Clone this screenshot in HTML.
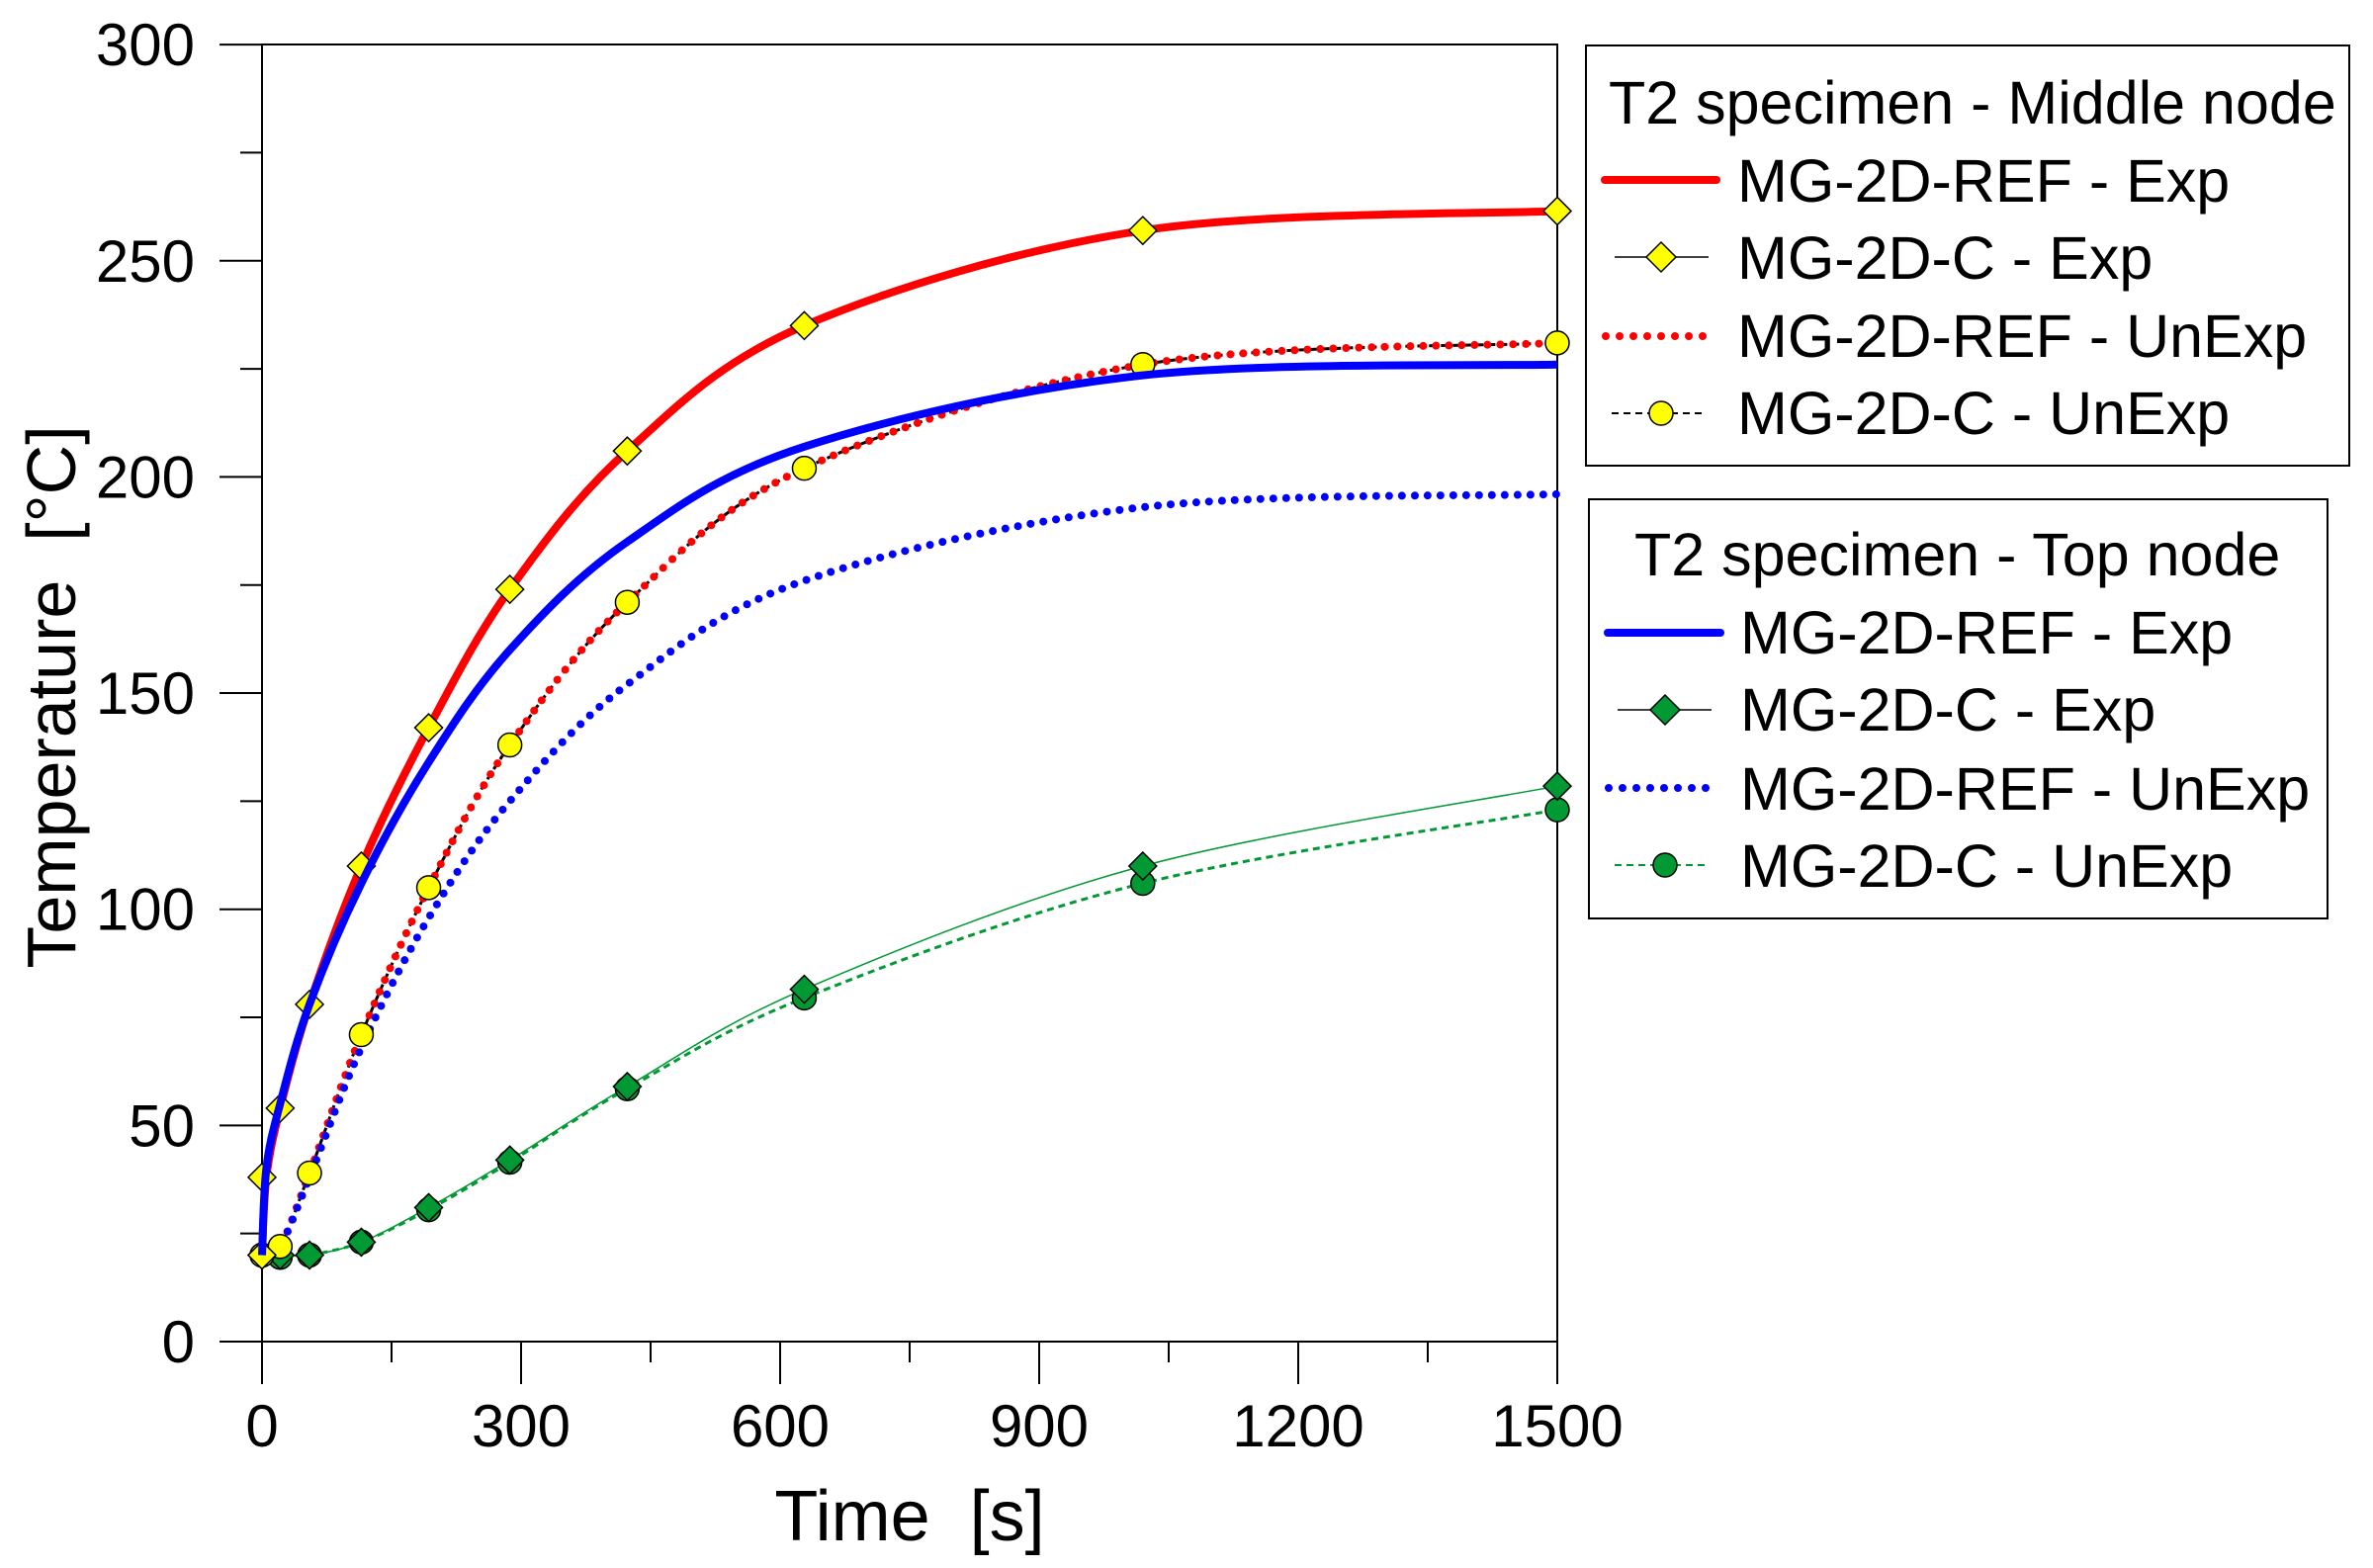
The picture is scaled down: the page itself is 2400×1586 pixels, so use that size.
<!DOCTYPE html>
<html><head><meta charset="utf-8"><style>
html,body{margin:0;padding:0;background:#fff;}
svg{display:block;font-family:"Liberation Sans",Arial,sans-serif;}
</style></head><body>
<svg id="s" width="2400" height="1586" viewBox="0 0 2400 1586" xmlns="http://www.w3.org/2000/svg">
<rect width="2400" height="1586" fill="#fff"/>
<g id="axes" stroke="#000" stroke-width="2" fill="none">
<rect x="265" y="45" width="1310" height="1312"/>
</g>
<g id="ticks" stroke="#000" stroke-width="2"></g>
<g font-size="60" fill="#000" text-anchor="end" id="ylab"></g>
<g font-size="60" fill="#000" text-anchor="middle" id="xlab"></g>
<text x="920" y="1558" font-size="72" text-anchor="middle">Time&#160; [s]</text>
<text transform="translate(76,705) rotate(-90)" font-size="70" text-anchor="middle">Temperature&#160; [°C]</text>
<g id="curves" fill="none"></g>
<g id="marks"></g>

<!-- legend 1 -->
<rect x="1604" y="46" width="772" height="425" fill="#fff" stroke="#000" stroke-width="2"/>
<g font-size="61" fill="#000">
<text x="1627" y="125">T2 specimen - Middle node</text>
<text x="1757" y="204">MG-2D-REF - Exp</text>
<text x="1757" y="282">MG-2D-C - Exp</text>
<text x="1757" y="361">MG-2D-REF - UnExp</text>
<text x="1757" y="439">MG-2D-C - UnExp</text>
</g>
<line x1="1623" y1="182" x2="1736" y2="182" stroke="#f00" stroke-width="8" stroke-linecap="round"/>
<line x1="1633" y1="260" x2="1728" y2="260" stroke="#000" stroke-width="1.5"/>
<polygon points="1680,245 1695,260 1680,275 1665,260" fill="#ff0" stroke="#000" stroke-width="1.5"/>
<line x1="1624" y1="340" x2="1732" y2="340" stroke="#f00" stroke-width="8" stroke-dasharray="0 14" stroke-linecap="round"/>
<line x1="1630" y1="418" x2="1724" y2="418" stroke="#000" stroke-width="2" stroke-dasharray="7 5"/>
<circle cx="1680" cy="418" r="12" fill="#ff0" stroke="#000" stroke-width="1.5"/>

<!-- legend 2 -->
<rect x="1607" y="505" width="747" height="424" fill="#fff" stroke="#000" stroke-width="2"/>
<g font-size="61" fill="#000">
<text x="1653" y="582">T2 specimen - Top node</text>
<text x="1760" y="661">MG-2D-REF - Exp</text>
<text x="1760" y="739">MG-2D-C - Exp</text>
<text x="1760" y="819">MG-2D-REF - UnExp</text>
<text x="1760" y="897">MG-2D-C - UnExp</text>
</g>
<line x1="1626" y1="640" x2="1740" y2="640" stroke="#00f" stroke-width="8" stroke-linecap="round"/>
<line x1="1636" y1="718" x2="1731" y2="718" stroke="#000" stroke-width="1.5"/>
<polygon points="1684,703 1699,718 1684,733 1669,718" fill="#009933" stroke="#000" stroke-width="1.5"/>
<line x1="1627" y1="797" x2="1735" y2="797" stroke="#00f" stroke-width="8" stroke-dasharray="0 14" stroke-linecap="round"/>
<line x1="1633" y1="875" x2="1727" y2="875" stroke="#009933" stroke-width="2" stroke-dasharray="7 5"/>
<circle cx="1684" cy="875" r="12" fill="#009933" stroke="#000" stroke-width="1.5"/>
</svg>
<script>
(function(){
var NS="http://www.w3.org/2000/svg";
function X(t){return 265+t*0.87333;}
function Y(v){return 1357-v*4.373;}
function el(p,tag,a){var e=document.createElementNS(NS,tag);for(var k in a)e.setAttribute(k,a[k]);p.appendChild(e);return e;}
var tk=document.getElementById('ticks'),yl=document.getElementById('ylab'),xl=document.getElementById('xlab');
for(var v=0;v<=300;v+=25){var maj=v%50==0;el(tk,'line',{x1:maj?222:243,x2:265,y1:Y(v),y2:Y(v)});
 if(maj){var t=el(yl,'text',{x:197,y:Y(v)+21});t.textContent=v;}}
for(var s=0;s<=1500;s+=150){var maj=s%300==0;el(tk,'line',{x1:X(s),x2:X(s),y1:1357,y2:maj?1400:1378});
 if(maj){var t=el(xl,'text',{x:X(s),y:1463});t.textContent=s;}}
function path(pts){var P=pts.map(function(p){return [X(p[0]),Y(p[1])];});var d="M"+P[0][0]+","+P[0][1];
 for(var i=0;i<P.length-1;i++){var p0=P[i-1]||P[i],p1=P[i],p2=P[i+1],p3=P[i+2]||P[i+1];
 var c1=[p1[0]+(p2[0]-p0[0])/6,p1[1]+(p2[1]-p0[1])/6],c2=[p2[0]-(p3[0]-p1[0])/6,p2[1]-(p3[1]-p1[1])/6];
 d+=" C"+c1+" "+c2+" "+p2;}return d;}
var redE=[[0,20],[5,38],[21,54],[55,78],[115,110],[193,142],[287,174],[423,206],[628,235],[1020,257],[1500,261.5]];
var blueE=[[0,20],[5,40],[21,55],[55,78],[115,106],[193,134],[287,160],[423,185],[628,207],[1020,223.5],[1500,226]];
var redU=[[0,20],[21,22],[55,39],[115,71],[193,105],[287,138],[423,171],[628,202],[1020,226],[1500,231]];
var blueU=[[0,20],[21,22],[55,38],[115,68],[193,98],[287,125],[423,152],[628,176],[1020,193],[1500,196]];
var gE=[[0,20],[21,20],[55,20],[115,23],[193,31],[287,42],[423,59],[628,81.5],[1020,110],[1500,128.5]];
var gU=[[0,20],[21,19.5],[55,20],[115,23],[193,30.5],[287,41.5],[423,58.5],[628,79.5],[1020,106],[1500,123]];
var cv=document.getElementById('curves'),mk=document.getElementById('marks');
el(cv,'path',{d:path(gE),stroke:'#009933','stroke-width':1.5});
el(cv,'path',{d:path(gU),stroke:'#009933','stroke-width':3,'stroke-dasharray':'7 5'});
el(cv,'path',{d:path(redE),stroke:'#000','stroke-width':2});
el(cv,'path',{d:path(redU),stroke:'#000','stroke-width':3,'stroke-dasharray':'7 5'});
el(cv,'path',{d:path(redE),stroke:'#f00','stroke-width':8});
el(cv,'path',{d:path(redU),stroke:'#f00','stroke-width':8,'stroke-dasharray':'0 13','stroke-linecap':'round'});
el(cv,'path',{d:path(blueU),stroke:'#00f','stroke-width':8,'stroke-dasharray':'0 13','stroke-linecap':'round'});
function dia(x,y,f){el(mk,'polygon',{points:(x)+","+(y-14)+" "+(x+14)+","+y+" "+x+","+(y+14)+" "+(x-14)+","+y,fill:f,stroke:'#000','stroke-width':1.5});}
function cir(x,y,f){el(mk,'circle',{cx:x,cy:y,r:12,fill:f,stroke:'#000','stroke-width':1.5});}
gU.forEach(function(p){cir(X(p[0]),Y(p[1]),'#009933');});
gE.forEach(function(p){dia(X(p[0]),Y(p[1]),'#009933');});
redU.forEach(function(p){cir(X(p[0]),Y(p[1]),'#ff0');});
[[0,20],[0,38],[21,54],[55,78],[115,110],[193,142],[287,174],[423,206],[628,235],[1020,257],[1500,261.5]].forEach(function(p){dia(X(p[0]),Y(p[1]),'#ff0');});
el(mk,'path',{d:path(blueE),stroke:'#00f','stroke-width':8,fill:'none'});
})();
</script>
</body></html>
